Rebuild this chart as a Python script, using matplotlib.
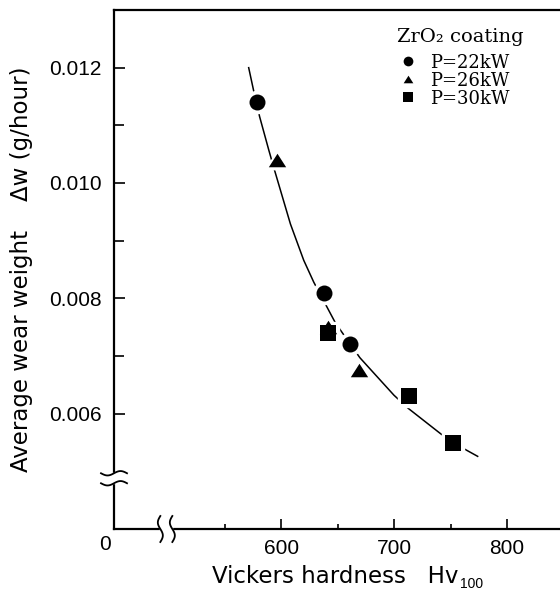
import matplotlib
matplotlib.use("Agg")
import matplotlib.pyplot as plt
import numpy as np
from matplotlib.lines import Line2D
from matplotlib.path import Path

plt.rcParams['font.family'] = ['Liberation Sans', 'DejaVu Sans']

# measured values (Vickers hardness Hv100, wear weight g/hour)
hv_22kw = [578, 638, 661]
dw_22kw = [0.0114, 0.0081, 0.0072]
hv_26kw = [596, 641, 669]
dw_26kw = [0.0104, 0.0075, 0.00675]
hv_30kw = [641, 713, 752]
dw_30kw = [0.0074, 0.0063, 0.0055]

# fitted trend line
fit_hv = [571, 575.4, 580.7, 588.7, 593.2, 608, 619.8, 628.7, 648, 669.6, 699.8, 712.6, 741.3, 762, 774]
fit_dw = [0.01200, 0.01160, 0.01115, 0.01058, 0.01027, 0.00929, 0.00866, 0.00828, 0.00757,
          0.00697, 0.00632, 0.00609, 0.00565, 0.00539, 0.00526]

labels = ['P=22kW', 'P=26kW', 'P=30kW']
x_break = 498
y_break = 0.00488

tri = Path([(-1, -0.78), (1, -0.78), (0, 0.78), (-1, -0.78)])
markers = ['o', tri, 's']
sizes = [11.5, 12.5, 11.5]

fig = plt.figure(figsize=(5.6, 5.9), dpi=100)
ax = fig.add_axes([114 / 560, 61 / 590, 446 / 560, 519 / 590])

ax.plot(fit_hv, fit_dw, '-', color='black', lw=1.1, zorder=2)

series = [(hv_22kw, dw_22kw), (hv_26kw, dw_26kw), (hv_30kw, dw_30kw)]
# white halos first, then black markers, so the line shows small gaps
for (xs, ys), m, s in zip(series, markers, sizes):
    ax.plot(xs, ys, linestyle='none', marker=m, ms=s + 4.5, color='white', mec='white', zorder=3)
for (xs, ys), m, s in zip(series, markers, sizes):
    ax.plot(xs, ys, linestyle='none', marker=m, ms=s, color='black', mec='black', mew=0, zorder=4)

ax.set_xlim(451.6, 847)
ax.set_ylim(0.004, 0.013)
ax.set_xticks([600, 700, 800])
ax.set_xticks([550, 650, 750], minor=True)
ax.set_yticks([0.006, 0.008, 0.010, 0.012])
ax.set_yticks([0.007, 0.009, 0.011], minor=True)
ax.set_yticklabels(['0.006', '0.008', '0.010', '0.012'])
ax.tick_params(axis='both', which='both', direction='in', labelsize=15, width=1.2)
ax.tick_params(axis='x', which='major', length=7, pad=7)
ax.tick_params(axis='x', which='minor', length=3.5)
ax.tick_params(axis='y', which='major', length=8, pad=9)
ax.tick_params(axis='y', which='minor', length=7)
ax.spines['right'].set_visible(False)
for sp in ['left', 'bottom', 'top']:
    ax.spines[sp].set_linewidth(1.6)

ax.set_ylabel('Average wear weight    \u0394w (g/hour)', fontsize=16.5, family='DejaVu Sans')
ax.yaxis.set_label_coords(-0.182, 0.5)

t1 = ax.text(0.22, -0.104, 'Vickers hardness   Hv', transform=ax.transAxes,
             fontsize=16.5, family='DejaVu Sans', ha='left', va='baseline')
ax.annotate('100', xy=(1, 0), xycoords=t1, xytext=(1, 0), textcoords='offset points',
            fontsize=10, ha='left', va='baseline')
ax.annotate('0', xy=(0, 0), xycoords='axes fraction', xytext=(-6.5, -11.5),
            textcoords='offset points', fontsize=15, ha='center', va='center')

# legend
fig.text(460 / 560, 1 - 37 / 590, 'ZrO\u2082 coating', family='DejaVu Serif', fontsize=14,
         ha='center', va='center')
handles = [Line2D([], [], linestyle='none', marker=m, ms=7, color='black', mew=0) for m in markers]
leg = ax.legend(handles, labels, loc='upper left',
                bbox_to_anchor=(400 / 560, 1 - 53.5 / 590), bbox_transform=fig.transFigure,
                frameon=False, prop={'family': 'DejaVu Serif', 'size': 13},
                handlelength=0.85, handletextpad=0.8, labelspacing=0.0, borderpad=0,
                borderaxespad=0)

# axis break marks, placed from data positions
fig.canvas.draw()
ov = fig.add_axes([0, 0, 1, 1], zorder=10)
ov.set_xlim(0, 560)
ov.set_ylim(0, 590)
ov.axis('off')
ov.patch.set_alpha(0)

px_x0, px_y0 = ax.transData.transform((451.6, 0.004))
bx, _ = ax.transData.transform((x_break, 0.004))
_, by = ax.transData.transform((451.6, y_break))
t = np.linspace(-1, 1, 60)
# y-axis break
ov.add_patch(plt.Rectangle((px_x0 - 3, by - 5), 6, 10, color='white', zorder=1))
for dy in (5, -5):
    ov.plot(px_x0 + 13 * t, by + dy + 2.2 * np.sin(np.pi * t), color='black', lw=1.3, zorder=2)
# x-axis break
ov.add_patch(plt.Rectangle((bx - 6, px_y0 - 3), 12, 6, color='white', zorder=1))
for dx in (-6, 6):
    ov.plot(bx + dx - 2.5 * np.sin(np.pi * t), px_y0 + 13 * t, color='black', lw=1.3, zorder=2)

fig.savefig('out.png', dpi=100)
